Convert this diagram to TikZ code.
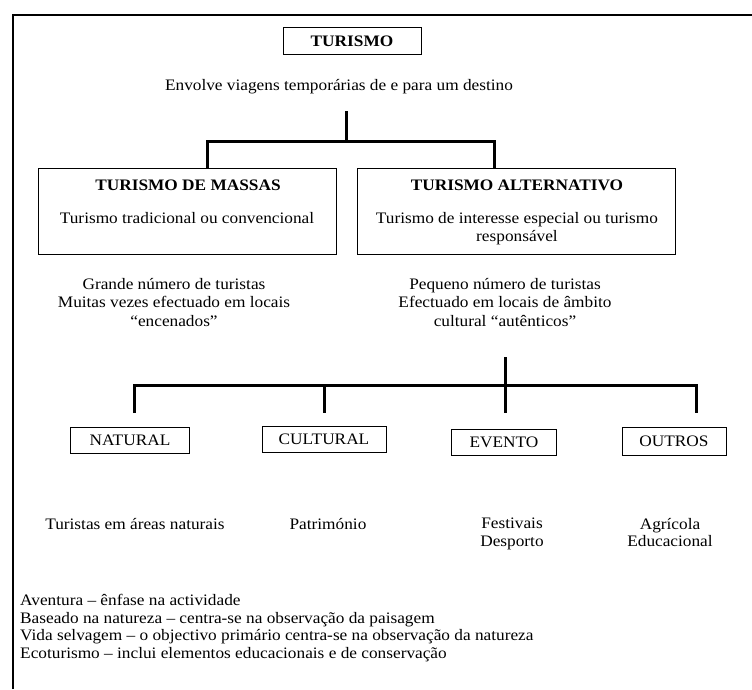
\documentclass[tikz,border=0pt]{standalone}
\usepackage{fontspec}
\setmainfont{Liberation Serif}[FakeStretch=1.08]
\usetikzlibrary{positioning, calc}

\tikzset{
	box/.style={draw, line width=0.8pt, inner sep=0pt},
	branch/.style={line width=3pt, line join=miter},
	txt/.style={inner sep=0pt, align=center, font=\fontsize{16}{18.5}\selectfont},
	title/.style={txt, font=\fontsize{16}{18.5}\selectfont\bfseries},
}

\begin{document}
\begin{tikzpicture}[x=1pt, y=-1pt]

	% Page and frame
	\useasboundingbox (0,0) rectangle (752,689);
	\draw[line width=2.2pt] (13,689) -- (13,15) -- (752,15);

	% Top of the tree
	\node[box, title, minimum width=138, minimum height=27] (turismo) at (352,41) {TURISMO};
	\node[txt, anchor=base] (envolve) at (339,90) {Envolve viagens temporárias de e para um destino};

	% The two main kinds
	\node[box, minimum width=298, minimum height=86] (massas) at (187,211) {};
	\node[box, minimum width=318, minimum height=86] (altern) at (516,211) {};
	\node[title, anchor=base] (massastitle) at (188,190) {TURISMO DE MASSAS};
	\node[txt, anchor=base] (massastext) at (187,223) {Turismo tradicional ou convencional};
	\node[title, anchor=base] (alterntitle) at (517,190) {TURISMO ALTERNATIVO};
	\node[txt, anchor=north] (alterntext) at (517,212) {Turismo de interesse especial ou turismo\\responsável};

	% Branch to the two kinds
	\coordinate (trunk) at (346,111);
	\coordinate (split) at (346,141);
	\coordinate (lsplit) at (207,141);
	\coordinate (rsplit) at (494,141);
	\draw[branch] (trunk) -- (split);
	\draw[branch] (lsplit |- massas.north) -- (lsplit) -- (rsplit) -- (rsplit |- altern.north);

	% Notes under the kinds
	\node[txt, anchor=north] (massasnote) at (174,278) {Grande número de turistas\\Muitas vezes efectuado em locais\\“encenados”};
	\node[txt, anchor=north] (alternnote) at (505,278) {Pequeno número de turistas\\Efectuado em locais de âmbito\\cultural “autênticos”};

	% The four kinds of alternative tourism
	\node[box, txt, minimum width=119, minimum height=26] (natural) at (130,440) {NATURAL};
	\node[box, txt, minimum width=124, minimum height=26] (cultural) at (324,439) {CULTURAL};
	\node[box, txt, minimum width=105, minimum height=26] (evento) at (504,442) {EVENTO};
	\node[box, txt, minimum width=104, minimum height=28] (outros) at (674,441) {OUTROS};

	% Branch to the four kinds
	\coordinate (hub) at (505,357);
	\coordinate (hubend) at (505,413);
	\coordinate (lbar) at (134,385);
	\coordinate (cbar) at (324,385);
	\coordinate (rbar) at (696,385);
	\draw[branch] (hub) -- (hubend);
	\draw[branch] (lbar |- hubend) -- (lbar) -- (rbar) -- (rbar |- hubend);
	\draw[branch] (cbar) -- (cbar |- hubend);

	% Examples
	\node[txt, anchor=base] (naturalnote) at (135,529) {Turistas em áreas naturais};
	\node[txt, anchor=base] (culturalnote) at (328,529) {Património};
	\node[txt, anchor=north, font=\fontsize{16}{17.5}\selectfont] (eventonote) at (512,518) {Festivais\\Desporto};
	\node[txt, anchor=north, font=\fontsize{16}{17.5}\selectfont] (outrosnote) at (670,518) {Agrícola\\Educacional};

	% Kinds of natural tourism
	\node[txt, anchor=north west, align=left, font=\fontsize{16}{17.7}\selectfont] (naturelist) at (20,594) {Aventura – ênfase na actividade\\Baseado na natureza – centra-se na observação da paisagem\\Vida selvagem – o objectivo primário centra-se na observação da natureza\\Ecoturismo – inclui elementos educacionais e de conservação};

\end{tikzpicture}
\end{document}
